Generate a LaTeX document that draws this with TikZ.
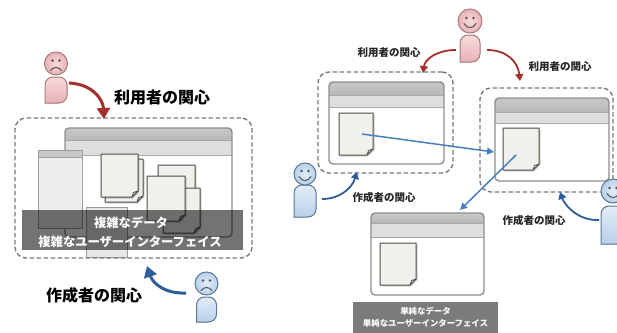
\documentclass[tikz,border=0pt]{standalone}
\usepackage{fontspec}
\setmainfont{Noto Sans CJK JP}
\usetikzlibrary{arrows.meta}

\definecolor{framegray}{HTML}{7A7A7A}
\definecolor{winedge}{HTML}{8E8E8E}
\definecolor{barA}{HTML}{C9C9C9}
\definecolor{barB}{HTML}{B7B7B7}
\definecolor{barC}{HTML}{DEDEDE}
\definecolor{barline}{HTML}{A8A8A8}
\definecolor{docfill}{HTML}{F1F1EC}
\definecolor{docedge}{HTML}{4E4E4A}
\definecolor{userred}{HTML}{A3302D}
\definecolor{makerblue}{HTML}{2F5E9C}
\definecolor{flowblue}{HTML}{4A7EC2}
\definecolor{pinkA}{HTML}{F8DADC}
\definecolor{pinkB}{HTML}{E8B2B6}
\definecolor{pinkedge}{HTML}{A87A7C}
\definecolor{blueA}{HTML}{E2EDF8}
\definecolor{blueB}{HTML}{B8D0EA}
\definecolor{blueedge}{HTML}{5A7898}
\definecolor{facedot}{HTML}{555555}
\definecolor{labelgray}{HTML}{7B7B7B}

\tikzset{
  dashframe/.style={draw=framegray, line width=1.4pt, dash pattern=on 4.5pt off 2.5pt, rounded corners=11pt},
  winframe/.style={draw=winedge, line width=1.4pt, rounded corners=4pt},
  docshape/.style={fill=docfill, draw=docedge, line width=1pt, line join=round},
  docfold/.style={fill=white, draw=docedge, line width=0.8pt, line join=round},
  docshadow/.style={fill=black, opacity=0.18},
  userbig/.style={draw=userred, line width=3pt, -{Triangle[length=11pt,width=13pt]}},
  usersmall/.style={draw=userred, line width=1.8pt, -{Triangle[length=7pt,width=8pt]}},
  makerbig/.style={draw=makerblue, line width=3pt, -{Triangle[length=11pt,width=13pt]}},
  makersmall/.style={draw=makerblue, line width=1.8pt, -{Triangle[length=7pt,width=8pt]}},
  flow/.style={draw=flowblue, line width=1.5pt, -{Triangle[length=7pt,width=7pt]}},
  biglabel/.style={font=\fontsize{16}{19}\selectfont\bfseries, text=black, inner sep=0pt},
  smalllabel/.style={font=\fontsize{10.5}{12}\selectfont\bfseries, text=black!85, inner sep=0pt},
  bandtext/.style={font=\fontsize{12.3}{19}\selectfont\bfseries, text=white, align=center, inner sep=0pt},
  tinytext/.style={font=\fontsize{8.4}{12}\selectfont\bfseries, text=white, align=center, inner sep=0pt},
  pinkbody/.style={top color=pinkA, bottom color=pinkB, draw=pinkedge, line width=1pt},
  pinkhead/.style={inner color=pinkA, outer color=pinkB, draw=pinkedge, line width=1pt},
  bluebody/.style={top color=blueA, bottom color=blueB, draw=blueedge, line width=1pt},
  bluehead/.style={inner color=blueA, outer color=blueB, draw=blueedge, line width=1pt},
}

% application window: x1 y1 x2 y2, title bar height, tool bar height
\newcommand{\appwin}[6]{%
  \begin{scope}
    \clip[rounded corners=4pt] (#1,#2) rectangle (#3,#4);
    \fill[white] (#1,#2) rectangle (#3,#4);
    \shade[top color=barA, bottom color=barB] (#1,#2) rectangle (#3,#2+#5);
    \fill[barC] (#1,#2+#5) rectangle (#3,#2+#5+#6);
    \draw[barline, line width=0.8pt] (#1,#2+#5) -- (#3,#2+#5);
    \draw[barline, line width=0.8pt] (#1,#2+#5+#6) -- (#3,#2+#5+#6);
  \end{scope}
  \draw[winframe] (#1,#2) rectangle (#3,#4);
}

% sheet of paper with a curled corner: x y width height
\newcommand{\docpage}[4]{%
  \fill[docshadow] (#1+1.5,#2+1.5) -- (#1+#3+1.5,#2+1.5) -- (#1+#3+1.5,#2+#4-5) -- (#1+#3-5,#2+#4+1.5) -- (#1+1.5,#2+#4+1.5) -- cycle;
  \filldraw[docshape] (#1,#2) -- (#1+#3,#2) -- (#1+#3,#2+#4-6) -- (#1+#3-6,#2+#4) -- (#1,#2+#4) -- cycle;
  \filldraw[docfold] (#1+#3,#2+#4-6) -- (#1+#3-4.5,#2+#4-4.5) -- (#1+#3-6,#2+#4) -- cycle;
}

% faces
\newcommand{\moodsad}[2]{%
  \draw[facedot, line width=1pt, line cap=round] (#1-5.5,#2+7) .. controls (#1-2.5,#2+3) and (#1+2.5,#2+3) .. (#1+5.5,#2+7);
}
\newcommand{\moodhappy}[2]{%
  \draw[facedot, line width=1pt, line cap=round] (#1-6,#2+2.5) .. controls (#1-3,#2+8) and (#1+3,#2+8) .. (#1+6,#2+2.5);
}

% person: head x, head y, radius, body top, body bottom, half width, colour scheme, face
\newcommand{\person}[8]{%
  \filldraw[#7body, rounded corners=8pt] (#1-#6,#5) -- (#1-#6,#4) -- (#1+#6,#4) -- (#1+#6,#5) [sharp corners] -- cycle;
  \filldraw[#7head] (#1,#2) circle[radius=#3];
  \fill[facedot] (#1-3.5,#2-3) circle[radius=1.4pt];
  \fill[facedot] (#1+3.5,#2-3) circle[radius=1.4pt];
  #8{#1}{#2}%
}

\begin{document}
\begin{tikzpicture}[x=1pt, y=-1pt]
\useasboundingbox (0,0) rectangle (617,332);
\clip (0,0) rectangle (617,332);
\fill[white] (0,0) rectangle (617,332);

%% ---------------- complex application ----------------
\appwin{65}{128}{232}{237}{12}{15}
% side panel
\filldraw[fill=black!7, draw=black!38, line width=1pt] (38,150) rectangle (82,228);
\filldraw[fill=black!22, draw=black!38, line width=1pt] (38,150) rectangle (82,157);
% documents
\docpage{105}{159}{38}{43}
\docpage{101}{154}{37}{43}
\docpage{158}{165}{37}{45}
\docpage{163}{188}{37}{45}
\docpage{147}{176}{38}{45}
% panel hidden under the caption band
\filldraw[fill=black!9, draw=black!40, line width=1pt] (86,207) rectangle (127,257);
% caption band
\fill[black, opacity=0.55] (22,210) rectangle (243,250);
\node[bandtext] (bandA) at (131,223) {複雑なデータ};
\node[bandtext] (bandB) at (130,242) {複雑なユーザーインターフェイス};
\node[dashframe, minimum width=237pt, minimum height=140pt, inner sep=0pt] (frameL) at (133.5,188) {};

% people and their concerns
\person{56}{63.5}{11.5}{77}{103}{11}{pink}{\moodsad}
\coordinate (uA) at (69,83);
\coordinate (uAtip) at (104,119);
\draw[userbig] (uA) .. controls (92,84) and (103,99) .. (uAtip);
\node[biglabel] (uAlab) at (162,97) {利用者の関心};

\person{206.5}{283.5}{11.5}{297}{322}{10}{blue}{\moodsad}
\coordinate (cA) at (186,293);
\coordinate (cAtip) at (147,266);
\draw[makerbig] (cA) .. controls (166,294) and (153,284) .. (cAtip);
\node[biglabel] (cAlab) at (94,295) {作成者の関心};

%% ---------------- simple applications ----------------
\appwin{329}{82}{444}{164}{13}{12}
\docpage{339}{113}{34}{42}
\node[dashframe, minimum width=135pt, minimum height=101pt, inner sep=0pt] (frameA) at (385.5,122.5) {};

\appwin{495}{98}{609}{181}{14}{11}
\docpage{503}{128}{36}{42}
\node[dashframe, minimum width=133pt, minimum height=104pt, inner sep=0pt] (frameB) at (546.5,140) {};

\appwin{371}{213}{484}{295}{10}{14}
\docpage{380}{243}{36}{42}

\fill[labelgray] (353,302) rectangle (498,335);
\node[tinytext] (simpleA) at (425.5,311) {単純なデータ};
\node[tinytext] (simpleB) at (425.5,323) {単純なユーザーインターフェイス};

% data passed between the applications
\coordinate (dA) at (362,134);
\coordinate (dAtip) at (494,152);
\draw[flow] (dA) -- (dAtip);
\coordinate (dB) at (516,155);
\coordinate (dBtip) at (460,210);
\draw[flow] (dB) -- (dBtip);

% user on top
\person{470}{21}{12}{35}{62}{10}{pink}{\moodhappy}
\coordinate (uB) at (456,50);
\coordinate (uBtip) at (423,73);
\draw[usersmall] (uB) .. controls (437,50) and (425,59) .. (uBtip);
\node[smalllabel] (uBlab) at (389,53) {利用者の関心};
\coordinate (uC) at (487,50);
\coordinate (uCtip) at (520,81);
\draw[usersmall] (uC) .. controls (507,50) and (518,62) .. (uCtip);
\node[smalllabel] (uClab) at (560,67) {利用者の関心};

% makers
\person{305}{174}{11}{185}{217}{11}{blue}{\moodhappy}
\coordinate (cB) at (322,199);
\coordinate (cBtip) at (357,172);
\draw[makersmall] (cB) .. controls (340,199) and (352,188) .. (cBtip);
\node[smalllabel] (cBlab) at (384,197) {作成者の関心};

\person{613}{191}{12}{206}{244}{12}{blue}{\moodhappy}
\coordinate (cC) at (599,220);
\coordinate (cCtip) at (560,192);
\draw[makersmall] (cC) .. controls (579,221) and (565,206) .. (cCtip);
\node[smalllabel] (cClab) at (534,220) {作成者の関心};
\end{tikzpicture}
\end{document}
